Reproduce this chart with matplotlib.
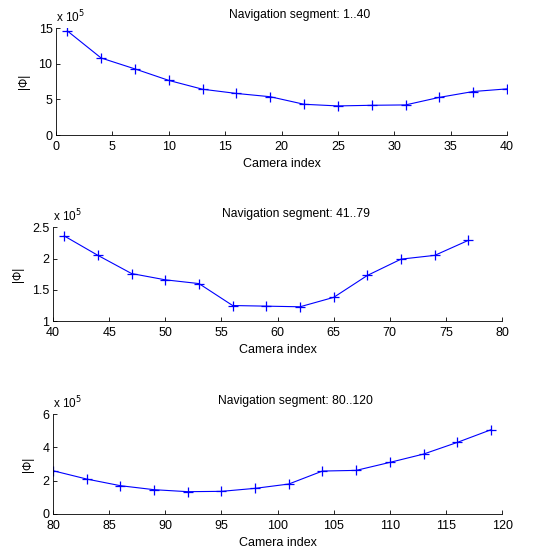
import numpy as np
import matplotlib.pyplot as plt

plt.rcParams['font.family'] = ['Liberation Sans', 'DejaVu Sans']
plt.rcParams['font.size'] = 8

# camera indices and |Phi| values (in units of 1e5) for each navigation segment
cam1 = [1, 4, 7, 10, 13, 16, 19, 22, 25, 28, 31, 34, 37, 40]
phi1 = [14.6, 10.8, 9.27, 7.66, 6.42, 5.83, 5.37, 4.31, 4.08, 4.17, 4.22, 5.28, 6.1, 6.47]

cam2 = [41, 44, 47, 50, 53, 56, 59, 62, 65, 68, 71, 74, 77]
phi2 = [2.36, 2.05, 1.76, 1.66, 1.60, 1.25, 1.24, 1.23, 1.38, 1.73, 1.99, 2.05, 2.29]

cam3 = [80, 83, 86, 89, 92, 95, 98, 101, 104, 107, 110, 113, 116, 119]
phi3 = [2.6, 2.1, 1.7, 1.46, 1.34, 1.36, 1.54, 1.8, 2.58, 2.62, 3.1, 3.6, 4.3, 5.06]

titles = ['Navigation segment: 1..40', 'Navigation segment: 41..79', 'Navigation segment: 80..120']
xlims = [(0, 40), (40, 80), (80, 120)]
ylims = [(0, 15), (1, 2.5), (0, 6)]
yticks = [[0, 5, 10, 15], [1, 1.5, 2, 2.5], [0, 2, 4, 6]]
ytick_labels = [['0', '5', '10', '15'], ['1', '1.5', '2', '2.5'], ['0', '2', '4', '6']]

boxes = [[0.103, 0.7545, 0.829, 0.1945],
         [0.0974, 0.416, 0.8256, 0.171],
         [0.0974, 0.0655, 0.8256, 0.1815]]

fig = plt.figure(figsize=(5.44, 5.5), dpi=100)

data = [(cam1, phi1), (cam2, phi2), (cam3, phi3)]
for i, (cam, phi) in enumerate(data):
	ax = fig.add_axes(boxes[i])
	ax.plot(cam, phi, color='blue', lw=0.8, marker='+', markersize=7, mew=0.9)
	ax.set_xlim(*xlims[i])
	ax.set_ylim(*ylims[i])
	ax.set_xticks(np.arange(xlims[i][0], xlims[i][1] + 1, 5))
	ax.set_yticks(yticks[i])
	ax.set_yticklabels(ytick_labels[i])
	ax.spines['top'].set_visible(False)
	ax.spines['right'].set_visible(False)
	ax.spines['left'].set_linewidth(0.6)
	ax.spines['bottom'].set_linewidth(0.6)
	ax.tick_params(direction='in', length=3, width=0.6, labelsize=9)
	ax.tick_params(axis='x', pad=4.5)
	ax.tick_params(axis='y', pad=2.5)
	ax.set_xlabel('Camera index', fontsize=9, labelpad=3.5)
	ax.set_ylabel('|\u03a6|', fontsize=8.5, labelpad=6)
	ax.set_title(titles[i], fontsize=8.7, x=0.54, pad=7)
	ax.text(0.0, 1.03, r'x 10$^5$', transform=ax.transAxes, fontsize=8.5, ha='left', va='bottom')

plt.savefig('out.png', dpi=100)
